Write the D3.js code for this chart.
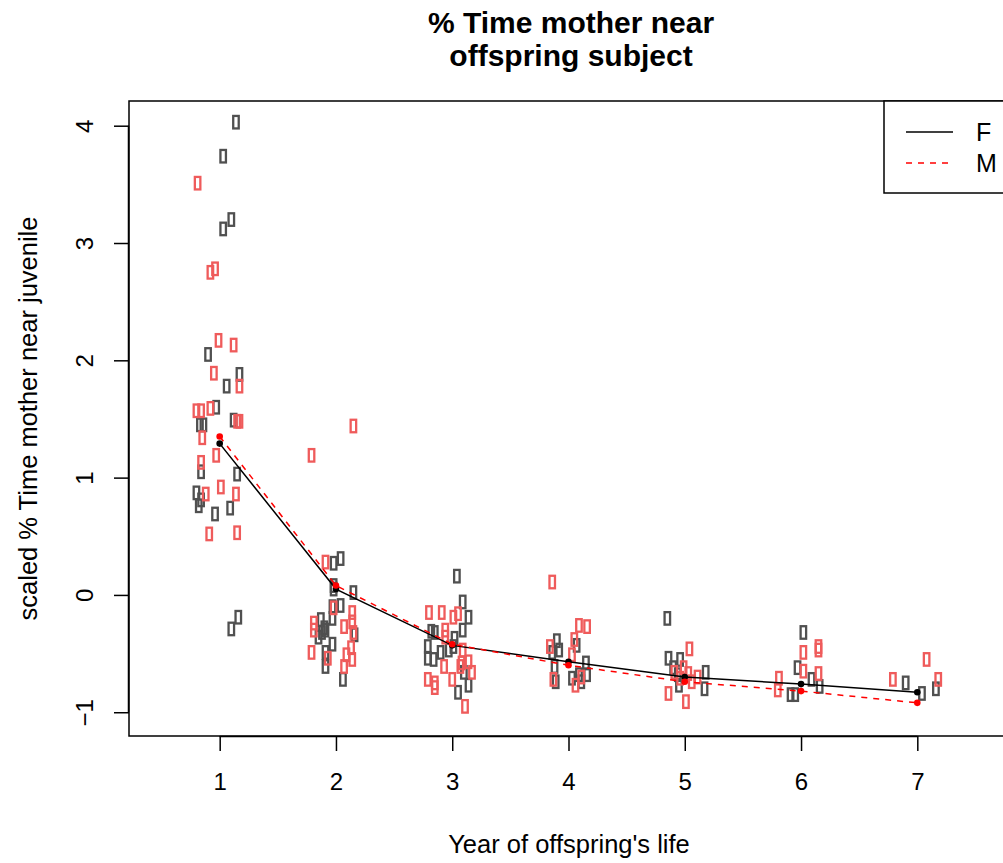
<!DOCTYPE html>
<html>
<head>
<meta charset="utf-8">
<script src="https://cdn.jsdelivr.net/npm/d3@7/dist/d3.min.js"></script>
<style>
  html, body { margin: 0; padding: 0; background: #fff; }
  svg { display: block; font-family: "Liberation Sans", Arial, Helvetica, sans-serif; }
</style>
</head>
<body>
<svg id="chart" width="1003" height="863"></svg>
<script>
// Year ticks along the x axis
const years = [1, 2, 3, 4, 5, 6, 7];
const yTicks = [-1, 0, 1, 2, 3, 4];

// Mean scaled % time per year, by offspring sex
const meanF = [1.29, 0.05, -0.43, -0.57, -0.70, -0.76, -0.83];
const meanM = [1.35, 0.08, -0.42, -0.60, -0.74, -0.82, -0.92];

// Individual observations (jittered year, scaled value)
const obsF = [
  [1.14, 4.03], [1.03, 3.74], [1.03, 3.12], [1.10, 3.20], [0.90, 2.05], [1.06, 1.78],
  [1.17, 1.88], [0.97, 1.60], [0.83, 1.45], [0.86, 1.45], [1.12, 1.49], [0.84, 1.05],
  [1.15, 1.03], [0.80, 0.87], [0.84, 0.81], [0.82, 0.76], [0.96, 0.69], [1.09, 0.74],
  [1.16, -0.19], [1.10, -0.29],
  [1.98, 0.27], [2.04, 0.31], [1.98, 0.08], [1.98, 0.05], [2.15, 0.02], [1.97, -0.10],
  [2.04, -0.09], [1.87, -0.21], [1.97, -0.20], [1.90, -0.28], [1.88, -0.32], [1.91, -0.30],
  [1.85, -0.36], [1.97, -0.42], [2.16, -0.34], [1.91, -0.49], [1.91, -0.61], [2.06, -0.72],
  [3.04, 0.16], [3.09, -0.06], [3.14, -0.19], [3.09, -0.30], [2.82, -0.31], [2.85, -0.32],
  [2.79, -0.44], [3.02, -0.37], [3.01, -0.44], [2.90, -0.49], [2.97, -0.47], [2.79, -0.54],
  [2.84, -0.55], [3.10, -0.66], [3.14, -0.77], [3.05, -0.83],
  [3.90, -0.39], [3.92, -0.47], [3.86, -0.49], [4.07, -0.43], [3.88, -0.61], [3.89, -0.74],
  [4.03, -0.71], [4.15, -0.58], [4.16, -0.68], [4.11, -0.74], [4.09, -0.68],
  [4.85, -0.20], [4.86, -0.54], [4.96, -0.55], [4.90, -0.62], [4.94, -0.68], [5.18, -0.66],
  [5.17, -0.80], [4.95, -0.77],
  [6.02, -0.32], [5.97, -0.62], [6.09, -0.72], [6.16, -0.78], [5.91, -0.85], [5.95, -0.85],
  [6.90, -0.75], [7.04, -0.84], [7.16, -0.80]
];
const obsM = [
  [0.81, 3.51], [0.92, 2.75], [0.96, 2.78], [0.99, 2.17], [1.12, 2.13], [0.95, 1.89],
  [1.17, 1.78], [0.80, 1.57], [0.84, 1.57], [0.92, 1.59], [1.15, 1.48], [1.17, 1.48],
  [0.85, 1.34], [0.97, 1.19], [0.84, 1.13], [1.01, 0.92], [0.88, 0.86], [1.14, 0.86],
  [0.91, 0.52], [1.15, 0.53],
  [2.15, 1.44], [1.79, 1.19], [1.91, 0.28], [1.98, -0.11], [1.81, -0.24], [1.81, -0.30],
  [2.07, -0.27], [2.14, -0.15], [2.14, -0.23], [2.15, -0.32], [2.13, -0.45], [1.79, -0.49],
  [1.93, -0.54], [2.09, -0.51], [2.14, -0.55], [2.07, -0.61],
  [2.80, -0.15], [2.91, -0.15], [3.01, -0.19], [3.05, -0.16], [2.94, -0.30], [2.94, -0.36],
  [3.09, -0.47], [3.08, -0.58], [3.14, -0.57], [3.17, -0.66], [2.93, -0.61], [3.00, -0.72],
  [2.79, -0.72], [2.85, -0.75], [2.85, -0.79], [3.11, -0.95], [3.07, -0.61],
  [3.86, 0.11], [4.09, -0.26], [4.16, -0.27], [4.05, -0.38], [3.84, -0.44], [4.03, -0.51],
  [3.87, -0.72], [4.06, -0.77], [4.11, -0.70],
  [5.04, -0.46], [4.91, -0.66], [4.99, -0.62], [5.03, -0.67], [5.11, -0.70], [5.06, -0.74],
  [4.86, -0.84], [5.01, -0.91], [4.96, -0.71],
  [6.02, -0.49], [6.15, -0.47], [6.15, -0.44], [6.02, -0.65], [6.15, -0.67], [5.81, -0.71],
  [5.80, -0.81],
  [6.79, -0.72], [7.08, -0.55], [7.18, -0.72]
];

const legendLabels = ["F", "M"];

const svg = d3.select("#chart");
const plot = { left: 129, top: 101, right: 1008, bottom: 736 };

const x = d3.scaleLinear().domain([0.22, 7.78]).range([plot.left, plot.right]);
const y = d3.scaleLinear().domain([-1.2026, 4.2106]).range([plot.bottom, plot.top]);

const colF = "#505050", colM = "#ef5b5b";
const FONT = "Liberation Sans, Arial, sans-serif";

// Observations as hollow rectangles
const rw = 5.5, rh = 12.5;
function drawObs(data, col) {
  svg.append("g").selectAll("rect").data(data).join("rect")
    .attr("x", d => x(d[0]) - rw / 2)
    .attr("y", d => y(d[1]) - rh / 2)
    .attr("width", rw).attr("height", rh)
    .attr("fill", "none").attr("stroke", col).attr("stroke-width", 2.3);
}
drawObs(obsF, colF);
drawObs(obsM, colM);

// Mean lines with dots
const line = d3.line().x((d, i) => x(years[i])).y(d => y(d));
svg.append("path").datum(meanF).attr("d", line)
  .attr("fill", "none").attr("stroke", "#000").attr("stroke-width", 1.5);
svg.append("path").datum(meanM).attr("d", line)
  .attr("fill", "none").attr("stroke", "#ff0000").attr("stroke-width", 1.5)
  .attr("stroke-dasharray", "6,6");
svg.append("g").selectAll("circle").data(meanF).join("circle")
  .attr("cx", (d, i) => x(years[i])).attr("cy", d => y(d)).attr("r", 3.3).attr("fill", "#000");
svg.append("g").selectAll("circle").data(meanM).join("circle")
  .attr("cx", (d, i) => x(years[i])).attr("cy", d => y(d)).attr("r", 3.3).attr("fill", "#ff0000");

// Plot frame
svg.append("rect")
  .attr("x", plot.left).attr("y", plot.top)
  .attr("width", plot.right - plot.left).attr("height", plot.bottom - plot.top)
  .attr("fill", "none").attr("stroke", "#000").attr("stroke-width", 1.5);

// Axes
const xAxis = d3.axisBottom(x).tickValues(years).tickSize(15).tickPadding(22).tickFormat(d3.format("d"));
const gx = svg.append("g").attr("transform", `translate(0,${plot.bottom})`).call(xAxis);
gx.attr("font-size", 24).attr("font-family", FONT);
gx.select(".domain").attr("d", `M${x(1)},0.5H${x(7)}`).attr("stroke-width", 1.5);
gx.selectAll(".tick line").attr("stroke-width", 1.5);
gx.selectAll("text").attr("fill", "#000");

const yAxis = d3.axisLeft(y).tickValues(yTicks).tickSize(15).tickFormat(d3.format("d"));
const gy = svg.append("g").attr("transform", `translate(${plot.left},0)`).call(yAxis);
gy.attr("font-size", 24).attr("font-family", FONT);
gy.select(".domain").attr("d", `M-0.5,${y(-1)}V${y(4)}`).attr("stroke-width", 1.5);
gy.selectAll(".tick line").attr("stroke-width", 1.5);
gy.selectAll("text")
  .attr("fill", "#000")
  .attr("x", null).attr("dy", null)
  .attr("text-anchor", "middle")
  .attr("transform", "translate(-45,0) rotate(-90)")
  .attr("dominant-baseline", "central");
gy.selectAll("text").text(d => d < 0 ? "\u2212" + Math.abs(d) : d);

// Titles
const cx = 571;
svg.append("text").attr("x", cx).attr("y", 33).attr("text-anchor", "middle")
  .attr("font-size", 30).attr("font-weight", "bold").text("% Time mother near");
svg.append("text").attr("x", cx).attr("y", 66).attr("text-anchor", "middle")
  .attr("font-size", 30).attr("font-weight", "bold").text("offspring subject");
svg.append("text").attr("x", 569).attr("y", 853).attr("text-anchor", "middle")
  .attr("font-size", 25.5).text("Year of offspring's life");
svg.append("text").attr("transform", `translate(37,${(plot.top + plot.bottom) / 2}) rotate(-90)`)
  .attr("text-anchor", "middle").attr("font-size", 25.5).text("scaled % Time mother near juvenile");

// Legend
const lg = svg.append("g");
lg.append("rect").attr("x", 884).attr("y", plot.top).attr("width", 140).attr("height", 92)
  .attr("fill", "#fff").attr("stroke", "#000").attr("stroke-width", 1.5);
const legendItems = [
  { label: legendLabels[0], col: "#000", dash: null },
  { label: legendLabels[1], col: "#ff0000", dash: "6,6" }
];
legendItems.forEach((it, i) => {
  const ly = 132 + i * 31;
  lg.append("line").attr("x1", 906).attr("x2", 953).attr("y1", ly).attr("y2", ly)
    .attr("stroke", it.col).attr("stroke-width", 1.5).attr("stroke-dasharray", it.dash);
  lg.append("text").attr("x", 976).attr("y", ly).attr("dominant-baseline", "central")
    .attr("font-size", 25).text(it.label);
});
</script>
</body>
</html>
